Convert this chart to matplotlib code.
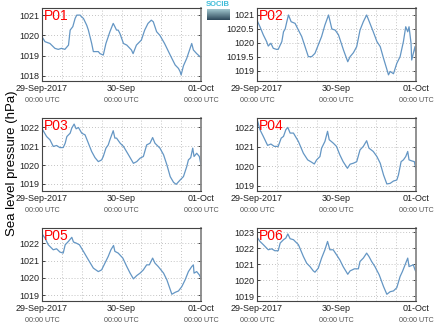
import matplotlib
matplotlib.use("Agg")
import matplotlib.pyplot as plt
import numpy as np

plt.rcParams['font.family'] = ['Liberation Sans', 'DejaVu Sans']

# hours since 29-Sep-2017 00:00 UTC
p01_t = [0, 0.9, 2.4, 3.9, 4.9, 5.9, 6.9, 8, 8.5, 9.3, 10, 10.5, 11.5, 12, 12.5, 13.5, 14, 15, 15.5, 17, 17.5, 18.5,
         19.3, 20.5, 21.5, 22, 22.5, 23, 23.5, 24.6, 25.6, 27, 27.5, 28.5, 30, 31, 32, 33, 33.6, 34.6, 35.6, 37,
         38.7, 40.2, 41.2, 41.7, 42.0, 42.7, 43.7, 45.2, 45.7, 46.7, 47.7, 48]
p01_v = [1019.93, 1019.69, 1019.6, 1019.36, 1019.31, 1019.36, 1019.31, 1019.52, 1020.26, 1020.43, 1020.84, 1021.0,
         1021.0, 1020.9, 1020.84, 1020.5, 1020.26, 1019.6, 1019.2, 1019.2, 1019.1, 1019.03, 1019.6, 1020.18, 1020.59,
         1020.43, 1020.26, 1020.26, 1020.1, 1019.6, 1019.52, 1019.28, 1019.1, 1019.52, 1019.77, 1020.26, 1020.59,
         1020.75, 1020.67, 1020.18, 1020.0, 1019.6, 1019.03, 1018.54, 1018.37, 1018.21, 1018.05, 1018.5, 1018.87,
         1019.6, 1019.28, 1019.1, 1018.95, 1018.9]

p02_t = [0.2, 0.9, 1.9, 2.9, 3.4, 4.2, 4.9, 5.9, 6.4, 7.5, 8, 8.5, 9, 9.5, 10.3, 11.5, 12.5, 13.5, 14.5, 15.5, 16.5,
         17.5, 18.5, 19.5, 20.5, 21.6, 22.6, 23.6, 24.6, 26.1, 27.4, 28.1, 29.1, 30.1, 31.1, 32.1, 33.1, 34.1, 35.1,
         36.2, 37.2, 38.2, 39.7, 40.2, 41.2, 42.2, 43.2, 44.2, 44.9, 45.5, 45.9, 46.5, 46.7, 47.2, 47.7, 48]
p02_v = [1020.76, 1020.58, 1020.29, 1020.05, 1019.89, 1019.99, 1019.81, 1019.77, 1019.77, 1020.05, 1020.4, 1020.5,
         1020.76, 1021.0, 1020.76, 1020.7, 1020.46, 1020.23, 1019.87, 1019.51, 1019.51, 1019.63, 1019.93, 1020.23,
         1020.64, 1021.0, 1020.5, 1020.46, 1020.29, 1019.75, 1019.33, 1019.51, 1019.65, 1019.87, 1020.46, 1020.76,
         1021.0, 1020.7, 1020.4, 1020.05, 1019.87, 1019.45, 1018.86, 1018.98, 1018.9, 1019.27, 1019.51, 1020.05,
         1020.58, 1020.4, 1020.58, 1019.99, 1019.39, 1019.63, 1019.87, 1019.51]

p03_t = [0.2, 1.4, 2.4, 3.4, 4.4, 5.4, 6.4, 7, 7.5, 8.5, 9, 9.7, 10.3, 11, 12, 13, 14, 15, 16, 17, 18, 18.5, 19.3,
         20, 20.5, 21.5, 22, 22.5, 23.6, 24.6, 26.1, 27.6, 28.6, 29.6, 30.6, 31.6, 32.6, 33.4, 34.1, 35.6, 36.7,
         37.7, 38.7, 39.7, 40.5, 41.7, 42.7, 43.7, 44.2, 44.9, 45.5, 45.9, 46.7, 47.5, 48]
p03_v = [1021.86, 1021.5, 1021.33, 1020.98, 1021.03, 1020.92, 1020.92, 1021.15, 1021.5, 1021.68, 1021.95, 1022.16,
         1021.91, 1021.98, 1021.68, 1021.59, 1021.15, 1020.71, 1020.39, 1020.18, 1020.27, 1020.45, 1020.89, 1021.06,
         1021.33, 1021.81, 1021.42, 1021.42, 1021.15, 1020.98, 1020.54, 1020.09, 1020.18, 1020.36, 1020.45, 1021.06,
         1021.15, 1021.45, 1021.15, 1020.89, 1020.54, 1020.01, 1019.39, 1019.09, 1018.98, 1019.21, 1019.39, 1019.92,
         1020.27, 1020.39, 1020.89, 1020.45, 1020.62, 1020.45, 1020.0]

p04_t = [0.2, 0.9, 1.9, 3.2, 4.2, 5.2, 6.4, 7.3, 8, 8.7, 9.3, 10, 11, 12.5, 14, 15.3, 16.5, 17.3, 18, 19, 19.5, 20.5,
         21.3, 21.8, 23, 24, 25, 26, 27.3, 28.1, 29.1, 30.1, 31.1, 32.1, 33.1, 33.8, 35.1, 36.2, 37.2, 38.2, 39.2,
         40.2, 41.2, 42.2, 42.7, 43.5, 44.2, 44.9, 45.5, 45.9, 46.7, 47.5, 48]
p04_v = [1022.29, 1021.86, 1021.52, 1021.06, 1021.13, 1021.01, 1021.01, 1021.43, 1021.52, 1021.86, 1021.98, 1021.69,
         1021.69, 1021.26, 1020.66, 1020.32, 1020.2, 1020.11, 1020.32, 1020.49, 1020.92, 1021.26, 1021.78, 1021.35,
         1021.18, 1021.01, 1020.58, 1020.23, 1019.89, 1020.1, 1020.15, 1020.23, 1020.83, 1021.01, 1021.3, 1020.92,
         1020.75, 1020.49, 1020.15, 1019.55, 1019.09, 1019.12, 1019.24, 1019.29, 1019.55, 1020.23, 1020.32, 1020.49,
         1020.75, 1020.32, 1020.27, 1020.23, 1019.81]

p05_t = [0.2, 0.9, 1.9, 3.4, 4.4, 5.4, 6.4, 7, 8, 9, 9.5, 10.3, 11.3, 12.5, 14, 15.5, 17, 18, 19, 20, 20.8, 21.6, 22,
         23, 24.4, 25.6, 26.6, 27.6, 28.6, 29.6, 30.6, 31.6, 32.4, 33.4, 34.1, 35.1, 36.7, 37.7, 39.2, 40.2, 41.2,
         42.2, 43.2, 44.2, 45.2, 45.7, 45.9, 46.7, 47.5, 48]
p05_v = [1022.5, 1022.31, 1021.92, 1021.63, 1021.69, 1021.5, 1021.44, 1021.92, 1022.12, 1022.35, 1022.08, 1022.02,
         1021.92, 1021.54, 1021.05, 1020.57, 1020.37, 1020.47, 1020.86, 1021.25, 1021.63, 1021.88, 1021.54, 1021.44,
         1021.15, 1020.66, 1020.28, 1019.95, 1020.14, 1020.28, 1020.47, 1020.76, 1020.76, 1021.15, 1020.86, 1020.66,
         1020.28, 1019.89, 1019.06, 1019.17, 1019.25, 1019.5, 1019.89, 1020.37, 1020.66, 1020.76, 1020.28, 1020.37,
         1020.18, 1019.99]

p06_t = [0.2, 0.9, 1.9, 3.4, 4.4, 5.4, 6.4, 7, 8, 8.7, 9.3, 10, 11, 12.5, 14, 15, 16, 17, 17.5, 18.5, 19.5, 20.5,
         21.3, 22, 23, 24, 25, 26, 27.4, 28.1, 29.4, 30.6, 31.1, 32.1, 33.1, 33.8, 34.6, 35.6, 36.9, 38.2, 39.2,
         40.2, 41.2, 42.2, 43.2, 43.9, 44.7, 45.5, 45.9, 46.7, 47.2, 47.7, 48]
p06_v = [1022.64, 1022.43, 1022.23, 1021.91, 1021.97, 1021.85, 1021.85, 1022.33, 1022.54, 1022.64, 1022.9, 1022.6,
         1022.54, 1022.23, 1021.49, 1021.07, 1020.86, 1020.59, 1020.51, 1020.76, 1021.39, 1021.91, 1022.43, 1021.91,
         1021.91, 1021.6, 1021.28, 1020.86, 1020.38, 1020.59, 1020.72, 1020.72, 1021.18, 1021.39, 1021.7, 1021.49,
         1021.18, 1020.86, 1020.34, 1019.61, 1019.13, 1019.29, 1019.34, 1019.54, 1020.24, 1020.55, 1020.97, 1021.39,
         1020.86, 1020.93, 1020.97, 1020.65, 1020.55]

station_names = ["P01", "P02", "P03", "P04", "P05", "P06"]
times = [p01_t, p02_t, p03_t, p04_t, p05_t, p06_t]
values = [p01_v, p02_v, p03_v, p04_v, p05_v, p06_v]
yticks = [[1018, 1019, 1020, 1021],
          [1019, 1019.5, 1020, 1020.5, 1021],
          [1019, 1020, 1021, 1022],
          [1019, 1020, 1021, 1022],
          [1019, 1020, 1021, 1022],
          [1019, 1020, 1021, 1022, 1023]]
ylims = [(1017.75, 1021.35), (1018.64, 1021.25), (1018.63, 1022.48),
         (1018.73, 1022.46), (1018.67, 1022.89), (1018.71, 1023.27)]
xtick_hours = [0, 24, 48]
xtick_labels = ["29-Sep-2017", "30-Sep", "01-Oct"]
xtick_sub = "00:00 UTC"

W, H = 435, 327
fig = plt.figure(figsize=(W / 100, H / 100), dpi=100)
cols = [(42, 201), (257, 416)]
rows = [(8, 81), (118, 191), (228, 301)]

line_color = '#6496c4'
for i in range(6):
    r, c = divmod(i, 2)
    x0, x1 = cols[c]
    y0, y1 = rows[r]
    ax = fig.add_axes([x0 / W, 1 - y1 / H, (x1 - x0) / W, (y1 - y0) / H])
    ax.plot(times[i], values[i], color=line_color, lw=0.9)
    ax.set_xlim(0, 48)
    ax.set_ylim(*ylims[i])
    ax.set_yticks(yticks[i])
    ax.set_yticklabels([f"{v:g}" for v in yticks[i]], fontsize=6.5)
    ax.set_xticks(xtick_hours)
    ax.set_xticklabels(xtick_labels, fontsize=6.5)
    ax.set_xticks(np.arange(0, 49, 6), minor=True)
    ax.tick_params(axis='y', direction='in', length=2.5, width=0.6, left=True, right=True, pad=2, colors='#222222')
    ax.tick_params(axis='x', which='both', length=0, pad=2.5, colors='#222222')
    ax.grid(True, which='both', axis='x', linestyle=(0, (1, 2.5)), color='#b0b0b0', lw=0.6)
    ax.grid(True, axis='y', linestyle=(0, (1, 2.5)), color='#b0b0b0', lw=0.6)
    for s in ax.spines.values():
        s.set_color('#444444')
        s.set_linewidth(0.8)
    ax.spines['right'].set_color('#888888')
    ax.spines['right'].set_linewidth(1.3)
    for h in xtick_hours:
        ax.annotate(xtick_sub, xy=(h, 0), xycoords=('data', 'axes fraction'),
                    xytext=(0, -11.5), textcoords='offset points', ha='center', va='top',
                    fontsize=5.2, color='#555555')
    ax.text(0.01, 0.98, station_names[i], transform=ax.transAxes, ha='left', va='top',
            fontsize=10, color='red')

fig.text(12 / W, 1 - 163 / H, "Sea level pressure (hPa)", rotation=90, ha='center', va='center', fontsize=9.5)

# logo
lax = fig.add_axes([207 / W, 1 - 20 / H, 23 / W, 11 / H])
grad = np.linspace(0, 1, 20).reshape(-1, 1)
lax.imshow(grad, aspect='auto', cmap=matplotlib.colors.LinearSegmentedColormap.from_list('lg', ['#9fc4cc', '#2f4a5c']))
lax.axis('off')
fig.text(218 / W, 1 - 5 / H, "SOCIB", ha='center', va='center', fontsize=5.5, color='#3fbcd8', fontweight='bold')

fig.savefig("out.png", dpi=100)
